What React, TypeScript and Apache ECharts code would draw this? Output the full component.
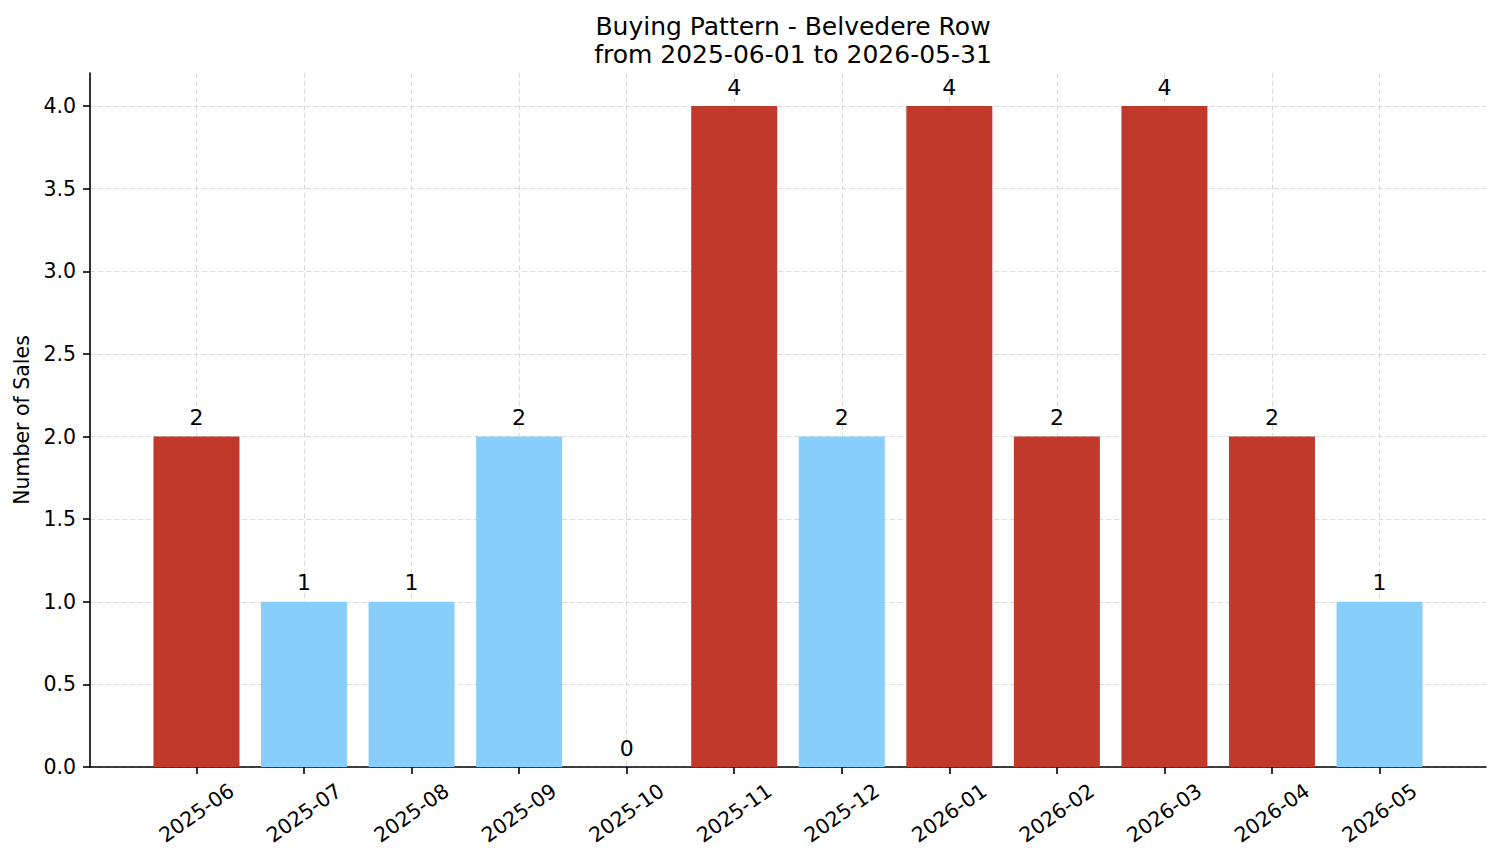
import React, { useEffect, useRef } from "react";
import * as echarts from "echarts";

const months = ["2025-06", "2025-07", "2025-08", "2025-09", "2025-10", "2025-11", "2025-12", "2026-01", "2026-02", "2026-03", "2026-04", "2026-05"];
const sales = [2, 1, 1, 2, 0, 4, 2, 4, 2, 4, 2, 1];
const barColors = ["#c0392b", "#87cefa", "#87cefa", "#87cefa", "#87cefa", "#c0392b", "#87cefa", "#c0392b", "#c0392b", "#c0392b", "#c0392b", "#87cefa"];
const yTicks = [0, 0.5, 1, 1.5, 2, 2.5, 3, 3.5, 4];

const FONT = "DejaVu Sans";

export default function App() {
  const ref = useRef<HTMLDivElement>(null);
  useEffect(() => {
    if (!ref.current) return;
    const chart = echarts.init(ref.current, null, { renderer: "svg" });
    const idx = months.map((_, i) => i);
    chart.setOption({
      animation: false,
      backgroundColor: "#ffffff",
      title: {
        text: "Buying Pattern - Belvedere Row\nfrom 2025-06-01 to 2026-05-31",
        left: 788,
        textAlign: "center",
        top: 7,
        textStyle: { fontFamily: FONT, fontSize: 25, fontWeight: "normal", color: "#000", lineHeight: 28, align: "center" },
      },
      grid: { left: 90, right: 15, top: 73, bottom: 96, containLabel: false, outerBoundsMode: "none" },
      xAxis: {
        type: "value",
        min: -0.99,
        max: 11.99,
        axisLine: { show: true, onZero: false, lineStyle: { color: "#000", width: 1.6 } },
        axisTick: { show: true, customValues: idx, length: 7, lineStyle: { color: "#000", width: 1.6 } },
        axisLabel: {
          customValues: idx,
          rotate: 35,
          align: "center",
          verticalAlign: "middle",
          margin: 46,
          fontFamily: FONT,
          fontSize: 20.5,
          color: "#000",
          formatter: (v: number) => months[Math.round(v)] ?? "",
        },
        splitLine: { show: true, lineStyle: { color: "#d9d9d9", type: [5, 3], width: 1 } },
      },
      yAxis: {
        type: "value",
        min: 0,
        max: 4.2,
        name: "Number of Sales",
        nameLocation: "middle",
        nameGap: 58,
        nameTextStyle: { fontFamily: FONT, fontSize: 20.5, color: "#000" },
        axisLine: { show: true, onZero: false, lineStyle: { color: "#000", width: 1.6 } },
        axisTick: { show: true, customValues: yTicks, length: 7, lineStyle: { color: "#000", width: 1.6 } },
        axisLabel: {
          customValues: yTicks,
          fontFamily: FONT,
          fontSize: 20.5,
          color: "#000",
          margin: 14,
          formatter: (v: number) => v.toFixed(1),
        },
        splitLine: { show: true, lineStyle: { color: "#d9d9d9", type: [5, 3], width: 1 } },
      },
      series: [
        {
          type: "bar",
          barWidth: 86,
          data: sales.map((v, i) => ({ value: [i, v], itemStyle: { color: barColors[i] } })),
          label: {
            show: true,
            position: "top",
            distance: 8,
            fontFamily: FONT,
            fontSize: 22,
            color: "#000",
            formatter: (p: any) => String(p.value[1]),
          },
        },
      ],
    });
    return () => chart.dispose();
  }, []);
  return <div ref={ref} style={{ width: 1501, height: 863, position: "absolute", left: 0, top: 0 }} />;
}
